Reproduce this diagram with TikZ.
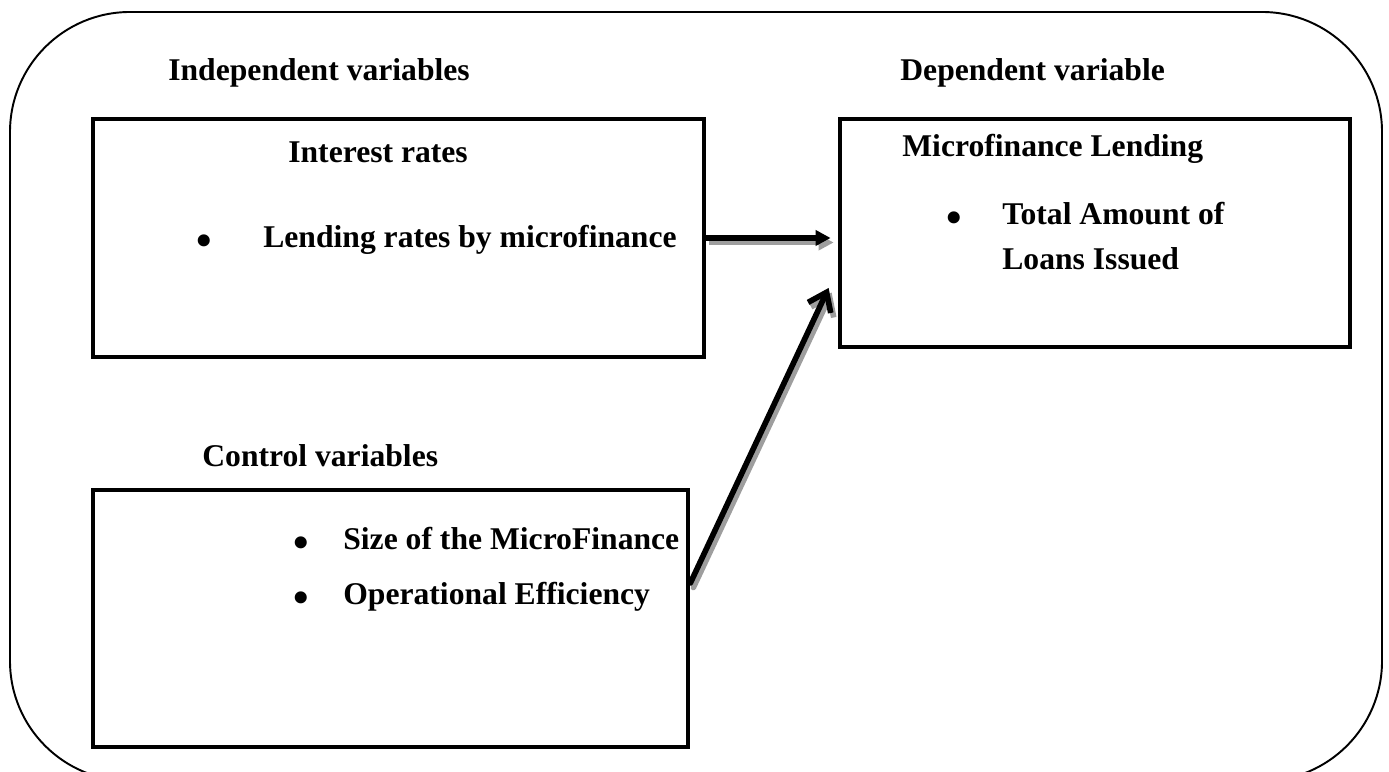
\documentclass[tikz,border=0pt]{standalone}
\usepackage{fontspec}
\setmainfont{Liberation Serif}
\usepackage{xcolor}
\definecolor{cLine}{HTML}{000000}
\definecolor{cShade}{HTML}{9E9E9E}
\usepackage{tikz}
\usetikzlibrary{positioning,arrows.meta}
\tikzset{
  frame-box/.style={draw=cLine,line width=1.1pt,rounded corners=2.4cm},
  var-box/.style={draw=cLine,line width=2.7pt,inner sep=0pt},
  var-text/.style={inner sep=0pt,anchor=base west,
    font=\bfseries\fontsize{18}{22}\selectfont},
  arrow/.style={-{Triangle[length=3mm,width=3mm]},line width=3.2pt,draw=cLine},
  arrow-open/.style={-{Straight Barb[length=3.4mm,width=5mm]},line width=3.2pt,
    draw=cLine,line join=round,line cap=round},
  % grey copy under each arrow, shifted down-right
  arrow-shade/.style={draw=cShade,transform canvas={xshift=0.6mm,yshift=-0.9mm}},
}
\newcommand{\bitem}[2]{\makebox[#1][l]{\raisebox{-4.5pt}{\scalebox{1.4}{\textbullet}}}#2}

\begin{document}
\begin{tikzpicture}
  \useasboundingbox (0,0) rectangle (27.78,15.42);
  \draw[frame-box] (0.2,-0.2) rectangle (27.64,15.18);

  \node[var-text] (indep) at (3.36,13.80) {Independent variables};
  \node[var-text] (dep) at (18.0,13.80) {Dependent variable};

  \node[var-box,minimum width=12.22cm,minimum height=4.76cm] (int) at (7.97,10.66) {};
  \node[var-box,minimum width=10.2cm,minimum height=4.56cm] (mfl) at (21.9,10.76) {};
  \node[var-box,minimum width=11.9cm,minimum height=5.14cm] (ctl) at (7.81,3.05) {};

  \node[var-text] (int-title) at (5.76,12.16) {Interest rates};
  \node[var-text] (int-item) at (3.93,10.46) {\bitem{1.33cm}{Lending rates by microfinance}};

  \node[var-text] (mfl-title) at (18.04,12.28) {Microfinance Lending};
  \node[var-text] (mfl-item) at (18.93,10.92) {\bitem{1.11cm}{Total Amount of}};
  \node[var-text] (mfl-item2) at (20.04,10.02) {Loans Issued};

  \node[var-text] (ctl-title) at (4.04,6.08) {Control variables};
  \node[var-text] (ctl-size) at (5.87,4.42) {\bitem{0.99cm}{Size of the MicroFinance}};
  \node[var-text] (ctl-eff) at (5.87,3.32) {\bitem{0.99cm}{Operational Efficiency}};

  \draw[arrow,arrow-shade,shorten >=1.4mm] (int.east) -- (int.east -| mfl.west);
  \draw[arrow,shorten >=1.4mm] (int.east) -- (int.east -| mfl.west);
  \draw[arrow-open,arrow-shade] ([yshift=7.1mm]ctl.east) -- ([xshift=-1.8mm,yshift=-11mm]mfl.west);
  \draw[arrow-open] ([yshift=7.1mm]ctl.east) -- ([xshift=-1.8mm,yshift=-11mm]mfl.west);
\end{tikzpicture}
\end{document}
